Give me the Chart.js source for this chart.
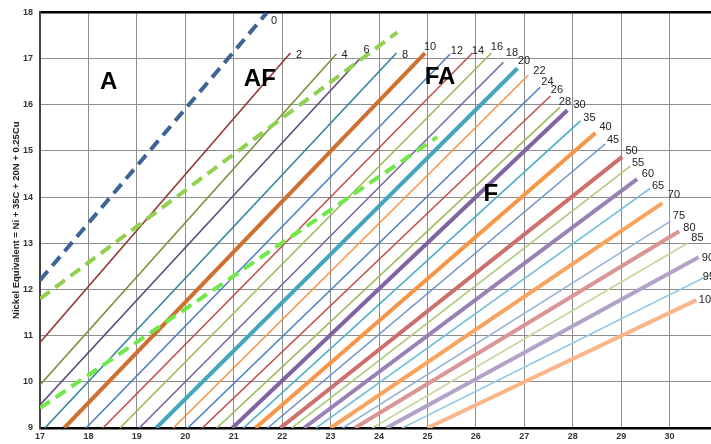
<!DOCTYPE html>
<html><head><meta charset="utf-8">
<script src="https://cdn.jsdelivr.net/npm/chart.js@4.4.0/dist/chart.umd.min.js"></script>
<style>
html,body{margin:0;padding:0;background:#fff;overflow:hidden;width:711px;height:444px;}
#wrap{position:relative;width:720px;height:444px;}
</style></head><body>
<div id="wrap"><canvas id="c" width="720" height="444"></canvas></div>
<script>
// Ferrite number lines: start and end points in data units
const fnLabels = ['0','2','4','6','8','10','12','14','16','18','20','22','24','26','28','30','35','40','45','50','55','60','65','70','75','80','85','90','95','100'];
const fnStartX = [17,17,17,17,17.1,17.5,17.95,18.3,18.65,19.05,19.4,19.75,20.05,20.35,20.65,20.97,21.2,21.45,21.7,21.96,22.2,22.45,22.7,23.0,23.25,23.5,23.86,24.15,24.48,25.0];
const fnStartY = [12.2,10.85,9.93,9.5,9,9,9,9,9,9,9,9,9,9,9,9,9,9,9,9,9,9,9,9,9,9,9,9,9,9];
const fnEndX = [21.69,22.17,23.12,23.61,24.36,24.95,25.47,25.93,26.32,26.57,26.86,27.08,27.33,27.54,27.74,27.89,28.16,28.47,28.67,29.02,29.19,29.33,29.6,29.85,30.02,30.2,30.37,30.6,30.78,30.55];
const fnEndY = [18,17.12,17.1,17.0,17.12,17.12,17.1,17.12,17.12,16.92,16.79,16.64,16.38,16.19,15.95,15.88,15.65,15.39,15.15,14.87,14.67,14.39,14.19,13.87,13.48,13.26,13.0,12.7,12.29,11.77];
// Where each FN number is written (centre of the text, data units)
const fnLabelX = [21.832,22.348,23.287,23.742,24.537,25.053,25.610,26.044,26.436,26.746,26.994,27.314,27.479,27.675,27.840,28.140,28.346,28.677,28.832,29.214,29.348,29.554,29.761,30.091,30.194,30.411,30.576,30.793,30.814,30.793];
const fnLabelY = [17.806,17.070,17.070,17.189,17.070,17.243,17.168,17.168,17.243,17.124,16.940,16.735,16.497,16.324,16.053,15.999,15.707,15.523,15.231,15.004,14.733,14.506,14.247,14.052,13.598,13.327,13.111,12.678,12.278,11.780];

// Phase boundary dashed lines
const boundaryNames = ['AF/FA','FA/F'];
const boundaryStartX = [17,17];
const boundaryStartY = [11.8,9.43];
const boundaryEndX = [24.38,25.2];
const boundaryEndY = [17.57,15.3];

// Region labels
const regionNames = ['A','AF','FA','F'];
const regionX = [18.42,21.54,25.26,26.31];
const regionY = [16.48,16.56,16.6,14.07];

// Axes
const xMin = 17, xMax = 31;
const xTicks = [17,18,19,20,21,22,23,24,25,26,27,28,29,30];
const yTicks = [9,10,11,12,13,14,15,16,17,18];
const yTitle = 'Nickel Equivalent = Ni + 35C + 20N + 0.25Cu';

// Styles
const fnColors = ['#3e6496','#953735','#77933c','#604a7b','#31859c','#d07030','#4f81bd','#c0504d','#9bbb59','#8064a2','#45a5bf','#f79646','#4f81bd','#c0504d','#9bbb59','#8064a2','#4bacc6','#f79646','#7094c8','#cd6f6c','#afc97a','#9882b5','#6fbed3','#f8a35e','#95b3d7','#d99694','#c3d69b','#b3a2c7','#93cddd','#f9b68a'];
const thickSet = new Set(['0','10','20','30','40','50','60','70','80','90','100']);
const boundaryColors = ['#92d050','#6fe84a'];

const datasets = [];
for (let i = 0; i < boundaryNames.length; i++) {
  datasets.push({
    label: boundaryNames[i],
    data: [{x: boundaryStartX[i], y: boundaryStartY[i]}, {x: boundaryEndX[i], y: boundaryEndY[i]}],
    borderColor: boundaryColors[i], borderWidth: 4, borderDash: [12, 7],
    showLine: true, pointRadius: 0, fill: false
  });
}
for (let i = 0; i < fnLabels.length; i++) {
  const thick = thickSet.has(fnLabels[i]);
  datasets.push({
    label: 'FN ' + fnLabels[i],
    data: [{x: fnStartX[i], y: fnStartY[i]}, {x: fnEndX[i], y: fnEndY[i]}],
    borderColor: fnColors[i],
    borderWidth: thick ? 4 : 1.6,
    borderDash: fnLabels[i] === '0' ? [12, 7] : [],
    showLine: true, pointRadius: 0, fill: false
  });
}

const labelPlugin = {
  id: 'labels',
  afterDatasetsDraw(chart) {
    const {ctx, scales: {x, y}} = chart;
    ctx.save();
    ctx.fillStyle = '#222';
    ctx.font = '11px "Liberation Sans", Arial, sans-serif';
    ctx.textAlign = 'center';
    ctx.textBaseline = 'middle';
    for (let i = 0; i < fnLabels.length; i++) {
      ctx.fillText(fnLabels[i], x.getPixelForValue(fnLabelX[i]), y.getPixelForValue(fnLabelY[i]));
    }
    ctx.fillStyle = '#000';
    ctx.font = 'bold 24px "Liberation Sans", Arial, sans-serif';
    for (let i = 0; i < regionNames.length; i++) {
      ctx.fillText(regionNames[i], x.getPixelForValue(regionX[i]), y.getPixelForValue(regionY[i]));
    }
    ctx.restore();
  }
};

new Chart(document.getElementById('c'), {
  type: 'scatter',
  data: {datasets},
  options: {
    responsive: false, animation: false, devicePixelRatio: 1,
    layout: {padding: {top: 12, right: 2, left: 0, bottom: 0}},
    plugins: {legend: {display: false}, tooltip: {enabled: false}},
    scales: {
      x: {
        type: 'linear', min: xMin, max: xMax,
        afterBuildTicks: s => { s.ticks = xTicks.map(v => ({value: v})); },
        afterFit: s => { s.height = 16; },
        ticks: {color: '#333', font: {size: 9, weight: 'bold', family: '"Liberation Sans", Arial'}, padding: 3, maxRotation: 0},
        grid: {color: '#8e8e8e', lineWidth: 1, drawTicks: false},
        border: {display: true, color: '#000', width: 2.5}
      },
      y: {
        type: 'linear', min: yTicks[0], max: yTicks[yTicks.length - 1],
        afterBuildTicks: s => { s.ticks = yTicks.map(v => ({value: v})); },
        afterFit: s => { s.width = 40; },
        ticks: {color: '#333', font: {size: 9, weight: 'bold', family: '"Liberation Sans", Arial'}, padding: 7},
        grid: {color: c => (c.tick && c.tick.value === 18) ? '#000' : '#8e8e8e', lineWidth: c => (c.tick && c.tick.value === 18) ? 2.5 : 1, drawTicks: false},
        border: {display: true, color: '#444', width: 2},
        title: {display: true, text: yTitle, color: '#222', font: {size: 9.5, weight: 'bold', family: '"Liberation Sans", Arial'}, padding: {top: 11, bottom: 0}}
      }
    }
  },
  plugins: [labelPlugin]
});
</script>
</body></html>
